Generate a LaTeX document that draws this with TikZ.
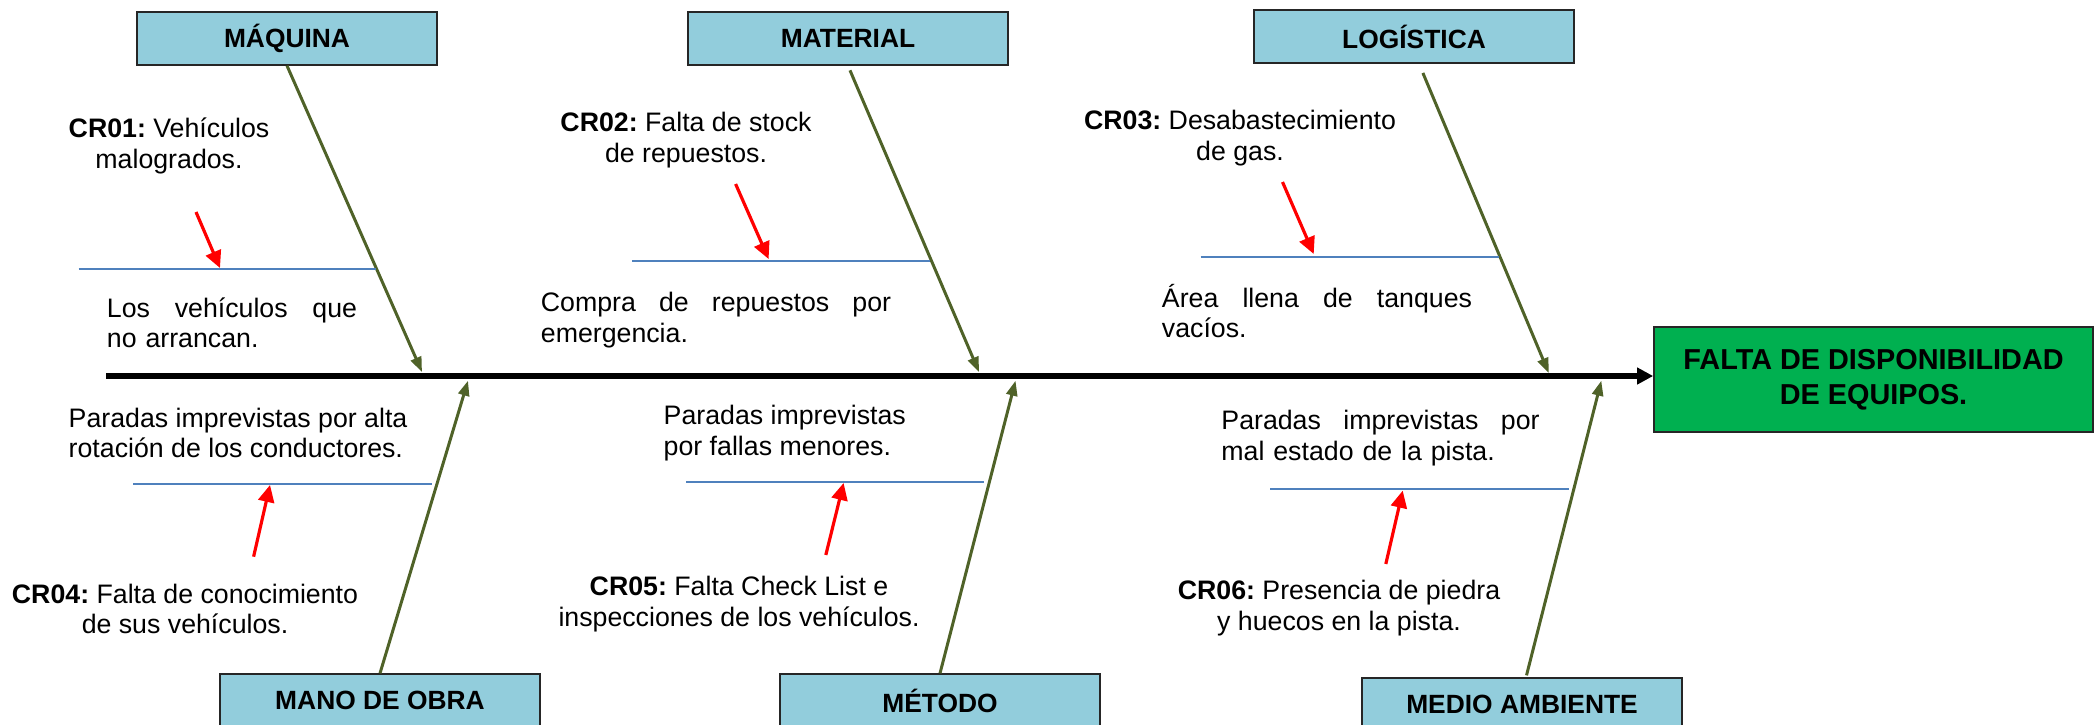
\documentclass[tikz,border=0pt]{standalone}
\usepackage{fontspec}
\setmainfont{Liberation Sans}
\usepackage{xcolor}
\usetikzlibrary{arrows.meta}
\definecolor{cajaazul}{HTML}{92CDDC}
\definecolor{verdeefecto}{HTML}{00B050}
\definecolor{olivo}{HTML}{4F6228}
\definecolor{lineaazul}{HTML}{4F81BD}
\newcommand{\codcr}[1]{\textbf{#1}}
\frenchspacing

\begin{document}
\begin{tikzpicture}[x=0.01cm, y=-0.01cm,
  categoria/.style={draw=black!85, line width=0.4pt, fill=cajaazul, minimum width=3.2cm, minimum height=0.53cm, inner sep=0pt, font=\fontsize{7.5}{9}\selectfont\bfseries},
  efecto/.style={draw=black!85, line width=0.4pt, fill=verdeefecto, minimum width=4.39cm, minimum height=1.05cm, inner sep=0pt, align=center, font=\fontsize{8.2}{10}\selectfont\bfseries},
  texto/.style={inner sep=0pt, font=\fontsize{7.6}{8.6}\selectfont},
  espina/.style={line width=1.7pt, -{Triangle[length=0.16cm, width=0.16cm]}},
  rama/.style={olivo, line width=0.85pt, -{Triangle[length=0.15cm, width=0.11cm]}},
  subrama/.style={lineaazul, line width=0.6pt},
  flecha/.style={red, line width=0.9pt, -{Triangle[length=0.17cm, width=0.16cm]}}]
\useasboundingbox (0,0) rectangle (2098,724);

\node[categoria, minimum width=3.0cm] (maq) at (287,38.5) {MÁQUINA};
\node[categoria] (mat) at (848,38.5) {MATERIAL};
\node[categoria] (log) at (1414,36.5) {LOGÍSTICA};
\node[categoria] (mano) at (380,700.5) {MANO DE OBRA};
\node[categoria] (met) at (940,700.5) {MÉTODO};
\node[categoria] (med) at (1522,704.5) {MEDIO AMBIENTE};
\node[efecto] (efe) at (1873.5,379.5) {FALTA DE DISPONIBILIDAD\\DE EQUIPOS.};

\coordinate (ini) at (106,376);
\draw[espina] (ini) -- (efe.west |- ini);

\coordinate (pmaq) at (422,372);
\coordinate (pmat) at (979,372);
\coordinate (plog) at (1548.7,373);
\coordinate (pmano) at (468,380.7);
\coordinate (pmet) at (1015.5,380.7);
\coordinate (pmed) at (1601.3,380.7);
\draw[rama] (maq.south) -- (pmaq);
\draw[rama, shorten <=0.05cm] (mat.south) -- (pmat);
\draw[rama, shorten <=0.1cm] ([xshift=0.05cm]log.south) -- (plog);
\draw[rama] (mano.north) -- (pmano);
\draw[rama] (met.north) -- (pmet);
\draw[rama, shorten <=0.02cm] ([xshift=0.04cm]med.north) -- (pmed);

\node[texto, align=center] (cr01) at (169,146) {\codcr{CR01:} Vehículos\\malogrados.};
\node[texto, align=left, text width=2.5cm] (t01) at (232,323) {Los\hfill vehículos\hfill que\\no arrancan.};
\node[texto, align=center] (cr02) at (686,140) {\codcr{CR02:} Falta de stock\\de repuestos.};
\node[texto, align=left, text width=3.5cm] (t02) at (716,320) {Compra\hfill de\hfill repuestos\hfill por\\emergencia.};
\node[texto, align=center] (cr03) at (1240,138) {\codcr{CR03:} Desabastecimiento\\de gas.};
\node[texto, align=left, text width=3.1cm] (t03) at (1317,311) {Área\hfill llena\hfill de\hfill tanques\\vacíos.};
\node[texto, align=left, anchor=west] (t04) at (68,433) {Paradas imprevistas por alta\\rotación de los conductores.};
\node[texto, align=center] (cr04) at (185,609) {\codcr{CR04:} Falta de conocimiento\\de sus vehículos.};
\node[texto, align=left, anchor=west] (t05) at (663,433) {Paradas imprevistas\\por fallas menores.};
\node[texto, align=center] (cr05) at (739,604) {\codcr{CR05:} Falta Check List e\\inspecciones de los vehículos.};
\node[texto, align=left, text width=3.18cm] (t06) at (1380.5,438) {Paradas\hfill imprevistas\hfill por\\mal estado de la pista.};
\node[texto, align=center] (cr06) at (1339,608) {\codcr{CR06:} Presencia de piedra\\y huecos en la pista.};

\coordinate (a1) at (78.6,269);   \coordinate (b1) at (376,269);
\coordinate (a2) at (632,260.7);  \coordinate (b2) at (930,260.7);
\coordinate (a3) at (1200.7,257); \coordinate (b3) at (1498.7,257);
\coordinate (a4) at (133,484);    \coordinate (b4) at (432,484);
\coordinate (a5) at (686,482);    \coordinate (b5) at (984,482);
\coordinate (a6) at (1270,488.7); \coordinate (b6) at (1569,488.7);
\draw[subrama] (a1) -- (b1);
\draw[subrama] (a2) -- (b2);
\draw[subrama] (a3) -- (b3);
\draw[subrama] (a4) -- (b4);
\draw[subrama] (a5) -- (b5);
\draw[subrama] (a6) -- (b6);

\coordinate (r1) at (196,212);     \coordinate (s1) at (220,268);
\coordinate (r2) at (735.6,184);   \coordinate (s2) at (768.6,259);
\coordinate (r3) at (1282.5,182);  \coordinate (s3) at (1313.7,254);
\coordinate (r4) at (253.6,556.7); \coordinate (s4) at (270,485);
\coordinate (r5) at (825.8,555);   \coordinate (s5) at (843.6,483);
\coordinate (r6) at (1385.8,564);  \coordinate (s6) at (1402.7,490.7);
\draw[flecha] (r1) -- (s1);
\draw[flecha] (r2) -- (s2);
\draw[flecha] (r3) -- (s3);
\draw[flecha] (r4) -- (s4);
\draw[flecha] (r5) -- (s5);
\draw[flecha] (r6) -- (s6);
\end{tikzpicture}
\end{document}
